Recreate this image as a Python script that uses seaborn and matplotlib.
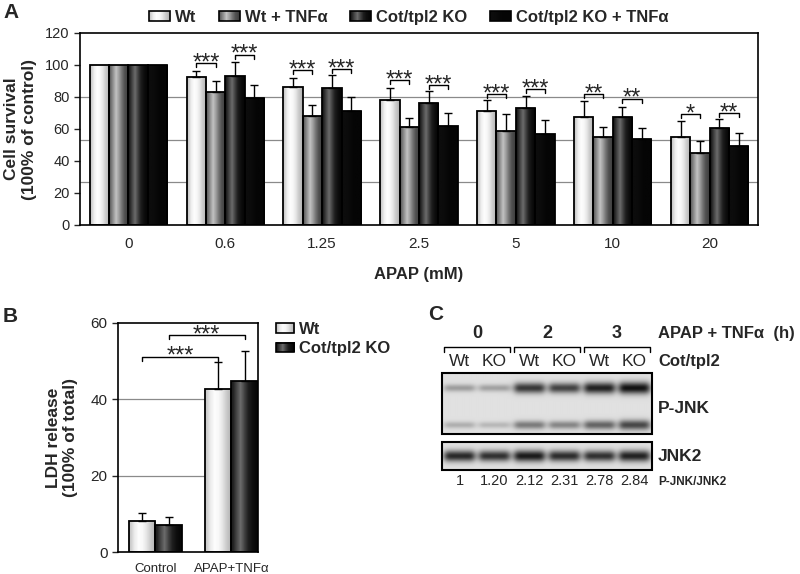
import numpy as np
import pandas as pd
import matplotlib
matplotlib.use("Agg")
import matplotlib.pyplot as plt
import seaborn as sns
from matplotlib.patches import Rectangle, Patch
from matplotlib.legend_handler import HandlerBase
from matplotlib.image import BboxImage
from matplotlib.transforms import Bbox, TransformedBbox
from matplotlib.colors import Normalize

# PANEL A - cell survival
doses = ["0", "0.6", "1.25", "2.5", "5", "10", "20"]
groups = ["Wt", "Wt + TNFα", "Cot/tpl2 KO", "Cot/tpl2 KO + TNFα"]
wt = [100, 92.5, 86.2, 77.9, 71.4, 67.6, 55.1]
wt_sd = [0, 3.5, 5.4, 7.7, 6.9, 9.6, 9.6]
wt_tnf = [100, 83.0, 68.3, 61.0, 58.5, 55.3, 44.7]
wt_tnf_sd = [0, 6.8, 6.7, 5.8, 10.6, 5.9, 7.7]
ko = [100, 93.0, 85.4, 76.4, 73.3, 67.4, 60.5]
ko_sd = [0, 9.0, 8.1, 7.5, 7.1, 6.3, 5.7]
ko_tnf = [100, 79.5, 71.4, 61.8, 56.8, 54.0, 49.5]
ko_tnf_sd = [0, 7.8, 8.6, 7.9, 9.0, 6.8, 7.9]

# significance (Wt vs Wt+TNF, KO vs KO+TNF)
sig_wt = ["", "***", "***", "***", "***", "**", "*"]
sig_wt_y = [0, 101.3, 96.7, 90.5, 81.6, 81.6, 69.3]
sig_ko = ["", "***", "***", "***", "***", "**", "**"]
sig_ko_y = [0, 106.5, 97.5, 87.5, 85.0, 79.0, 70.1]

# PANEL B - LDH release
conditions = ["Control", "APAP+TNFα"]
genotypes = ["Wt", "Cot/tpl2 KO"]
ldh_wt = [8.1, 42.8]
ldh_wt_sd = [2.2, 6.9]
ldh_ko = [7.1, 44.7]
ldh_ko_sd = [2.0, 8.0]
ldh_sig = ["***", "***"]
ldh_sig_y = [51.2, 56.9]

# PANEL C - western blot
times = ["0", "2", "3"]
lanes = ["Wt", "KO", "Wt", "KO", "Wt", "KO"]
pjnk_upper = [0.30, 0.28, 0.75, 0.70, 0.85, 0.92]
pjnk_lower = [0.22, 0.18, 0.45, 0.40, 0.55, 0.68]
jnk2_band = [0.82, 0.78, 0.88, 0.80, 0.78, 0.85]
ratios = ["1", "1.20", "2.12", "2.31", "2.78", "2.84"]

# gray shading across a bar (left -> right)
shades = [
    [0.80, 0.93, 0.99, 0.97, 0.90, 0.80, 0.72],
    [0.40, 0.58, 0.76, 0.62, 0.45, 0.32, 0.26],
    [0.12, 0.28, 0.42, 0.26, 0.12, 0.06, 0.03],
    [0.05, 0.05, 0.04, 0.03, 0.02, 0.02, 0.02],
]

sns.set_theme(style="white")
plt.rcParams["font.family"] = ["Liberation Sans", "DejaVu Sans"]

W, H = 800, 574
fig = plt.figure(figsize=(W / 100, H / 100), dpi=100)


def px_axes(x0, y0, x1, y1):
    return fig.add_axes([x0 / W, 1 - y1 / H, (x1 - x0) / W, (y1 - y0) / H])


def shade(ax, bar, prof):
    x, w, h = bar.get_x(), bar.get_width(), bar.get_height()
    im = ax.imshow(np.array(prof)[None, :], extent=[x, x + w, 0, h], aspect="auto",
                   cmap="gray", vmin=0, vmax=1, interpolation="bilinear", zorder=2)
    im.set_clip_path(bar)
    bar.set_facecolor("none")
    bar.set_zorder(3)


class GradHandler(HandlerBase):
    def __init__(self, prof):
        super().__init__()
        self.prof = np.array(prof)[None, :]

    def create_artists(self, legend, orig_handle, xdescent, ydescent, width, height, fontsize, trans):
        bb = TransformedBbox(Bbox.from_bounds(-xdescent, -ydescent, width, height), trans)
        img = BboxImage(bb, cmap="gray", norm=Normalize(0, 1), interpolation="bilinear")
        img.set_data(self.prof)
        rect = Rectangle((-xdescent, -ydescent), width, height, facecolor="none",
                         edgecolor="black", lw=1.2, transform=trans)
        return [img, rect]


def bracket(ax, x1, x2, y, drop, label, fs):
    ax.plot([x1, x1, x2, x2], [y - drop, y, y, y - drop], color="black", lw=1, zorder=5)
    ax.annotate(label, xy=((x1 + x2) / 2, y), xytext=(0, -4.5), textcoords="offset points",
                ha="center", va="baseline", fontsize=fs, zorder=5)


# ---------------- A ----------------
axA = px_axes(80, 33, 758, 225)
dfA = pd.DataFrame({"dose": doses * 4,
                    "group": np.repeat(groups, len(doses)),
                    "value": wt + wt_tnf + ko + ko_tnf})
sns.barplot(data=dfA, x="dose", y="value", hue="group", order=doses, hue_order=groups,
            palette=["0.9", "0.6", "0.2", "0.0"], width=0.8, errorbar=None,
            edgecolor="black", linewidth=1.3, legend=False, ax=axA)
sdsA = [wt_sd, wt_tnf_sd, ko_sd, ko_tnf_sd]
valsA = [wt, wt_tnf, ko, ko_tnf]
centersA = []
for cont, prof, vals, sds in zip(axA.containers, shades, valsA, sdsA):
    xs = []
    for bar in cont:
        shade(axA, bar, prof)
        xs.append(bar.get_x() + bar.get_width() / 2)
    centersA.append(xs)
    keep = [i for i, s in enumerate(sds) if s > 0]
    axA.errorbar([xs[i] for i in keep], [vals[i] for i in keep],
                 yerr=[[0] * len(keep), [sds[i] for i in keep]],
                 fmt="none", ecolor="black", elinewidth=1, capsize=3, capthick=1, zorder=4)
for k in range(len(doses)):
    if sig_wt[k]:
        bracket(axA, centersA[0][k], centersA[1][k], sig_wt_y[k], 2.5, sig_wt[k], 17)
    if sig_ko[k]:
        bracket(axA, centersA[2][k], centersA[3][k], sig_ko_y[k], 2.5, sig_ko[k], 17)
for g in [26.7, 53.3, 80]:
    axA.axhline(g, color="#8a8a8a", lw=0.9, zorder=0)
axA.set_xlim(-0.5, 6.5)
axA.set_ylim(0, 120)
axA.set_yticks(range(0, 121, 20))
axA.tick_params(axis="y", direction="out", length=4, width=1, labelsize=10.5, left=True)
axA.tick_params(axis="x", length=0, labelsize=11, pad=9)
axA.set_xlabel("APAP (mM)", fontsize=12, fontweight="bold", labelpad=11)
axA.set_ylabel("Cell survival\n(100% of control)", fontsize=12.5, fontweight="bold", labelpad=6)
for sp in axA.spines.values():
    sp.set_color("black")
    sp.set_linewidth(1.2)
hA = [Patch(label=g) for g in groups]
axA.legend(handles=hA, handler_map={h: GradHandler(p) for h, p in zip(hA, shades)},
           loc="lower center", bbox_to_anchor=(0.485, 1.0), ncol=4, frameon=False,
           prop={"weight": "bold", "size": 12}, handlelength=1.25, handleheight=0.5,
           handletextpad=0.3, columnspacing=1.35, borderaxespad=0.1)

# ---------------- B ----------------
axB = px_axes(118, 323, 258, 552)
dfB = pd.DataFrame({"cond": conditions * 2,
                    "geno": np.repeat(genotypes, len(conditions)),
                    "value": ldh_wt + ldh_ko})
sns.barplot(data=dfB, x="cond", y="value", hue="geno", order=conditions, hue_order=genotypes,
            palette=["0.9", "0.2"], width=0.7, errorbar=None,
            edgecolor="black", linewidth=1.3, legend=False, ax=axB)
centersB = []
for cont, prof, vals, sds in zip(axB.containers, [shades[0], shades[2]],
                                 [ldh_wt, ldh_ko], [ldh_wt_sd, ldh_ko_sd]):
    xs = []
    for bar in cont:
        shade(axB, bar, prof)
        xs.append(bar.get_x() + bar.get_width() / 2)
    centersB.append(xs)
    axB.errorbar(xs, vals, yerr=[[0] * len(vals), sds], fmt="none", ecolor="black",
                 elinewidth=1, capsize=3, capthick=1, zorder=4)
for j in range(2):
    bracket(axB, centersB[j][0], centersB[j][1], ldh_sig_y[j], 1.2, ldh_sig[j], 17)
for g in [20, 40]:
    axB.axhline(g, color="#8a8a8a", lw=0.9, zorder=0)
axB.set_xlim(-0.49, 1.35)
axB.set_ylim(0, 60)
axB.set_yticks([0, 20, 40, 60])
axB.tick_params(axis="y", direction="out", length=4, width=1, labelsize=11, left=True)
axB.tick_params(axis="x", length=0, labelsize=9.5, pad=8)
axB.set_xlabel("")
axB.set_ylabel("LDH release\n(100% of total)", fontsize=12.5, fontweight="bold", labelpad=9)
for sp in axB.spines.values():
    sp.set_color("black")
    sp.set_linewidth(1.2)
hB = [Patch(label=g) for g in genotypes]
fig.legend(handles=hB, handler_map={h: GradHandler(p) for h, p in zip(hB, [shades[0], shades[2]])},
           loc="upper left", bbox_to_anchor=(276 / W, 1 - 322 / H), frameon=False,
           prop={"weight": "bold", "size": 12}, handlelength=1.1, handleheight=0.5,
           handletextpad=0.3, labelspacing=0.25, borderaxespad=0, borderpad=0)

# ---------------- C ----------------
axC = px_axes(400, 300, 800, 574)
axC.axis("off")
x0, lw_ = 442, 35
n = len(lanes)
lane_x = [x0 + lw_ * (i + 0.5) for i in range(n)]


def blot_image(band_sets, centers, height):
    nx, ny = n * 40, height * 3
    xx = (np.arange(nx) + 0.5) / 40
    yy = (np.arange(ny) + 0.5) / 3
    dark = np.zeros((ny, nx))
    for levels, yc in zip(band_sets, centers):
        for i, d in enumerate(levels):
            hx = 1 / (1 + ((xx - (i + 0.5)) / 0.43) ** 8)
            sig = 2.6 + 3.6 * d
            vy = np.exp(-((yy - yc) / sig) ** 2)
            dark += d * np.outer(vy, hx)
    return 0.88 * (1 - np.clip(dark, 0, 0.97))


x1 = x0 + lw_ * n
for (top, bot), bands, centers in [((373, 434), [pjnk_upper, pjnk_lower], [15, 52]),
                                   ((442, 470), [jnk2_band], [14])]:
    img = blot_image(bands, centers, bot - top)
    axC.imshow(img, extent=[x0, x1, bot, top], cmap="gray", vmin=0, vmax=1,
               aspect="auto", interpolation="bilinear", zorder=1)
    axC.add_patch(Rectangle((x0, top), x1 - x0, bot - top, facecolor="none",
                            edgecolor="black", lw=1.5, zorder=2))
axC.set_xlim(400, 800)
axC.set_ylim(574, 300)

for k, t in enumerate(times):
    xa, xb = x0 + 2 * lw_ * k + 2, x0 + 2 * lw_ * (k + 1) - 2
    axC.text((xa + xb) / 2, 333, t, ha="center", va="center", fontsize=13, fontweight="bold")
    axC.plot([xa, xa, xb, xb], [352, 347, 347, 352], color="black", lw=1)
for x, lab, r in zip(lane_x, lanes, ratios):
    axC.text(x, 361, lab, ha="center", va="center", fontsize=12.5)
    axC.text(x, 481, r, ha="center", va="center", fontsize=10.5)
axC.text(658, 333, "APAP + TNFα  (h)", ha="left", va="center", fontsize=12, fontweight="bold")
axC.text(658, 361, "Cot/tpl2", ha="left", va="center", fontsize=12, fontweight="bold")
axC.text(658, 408, "P-JNK", ha="left", va="center", fontsize=12.5, fontweight="bold")
axC.text(658, 456, "JNK2", ha="left", va="center", fontsize=12.5, fontweight="bold")
axC.text(658, 482, "P-JNK/JNK2", ha="left", va="center", fontsize=8.5, fontweight="bold")

# panel letters
fig.text(3 / W, 1 - 13 / H, "A", fontsize=15, fontweight="bold", va="center")
fig.text(3 / W, 1 - 316 / H, "B", fontsize=15, fontweight="bold", va="center")
fig.text(428 / W, 1 - 315 / H, "C", fontsize=15, fontweight="bold", va="center")

fig.savefig("out.png", dpi=100, facecolor="white")
